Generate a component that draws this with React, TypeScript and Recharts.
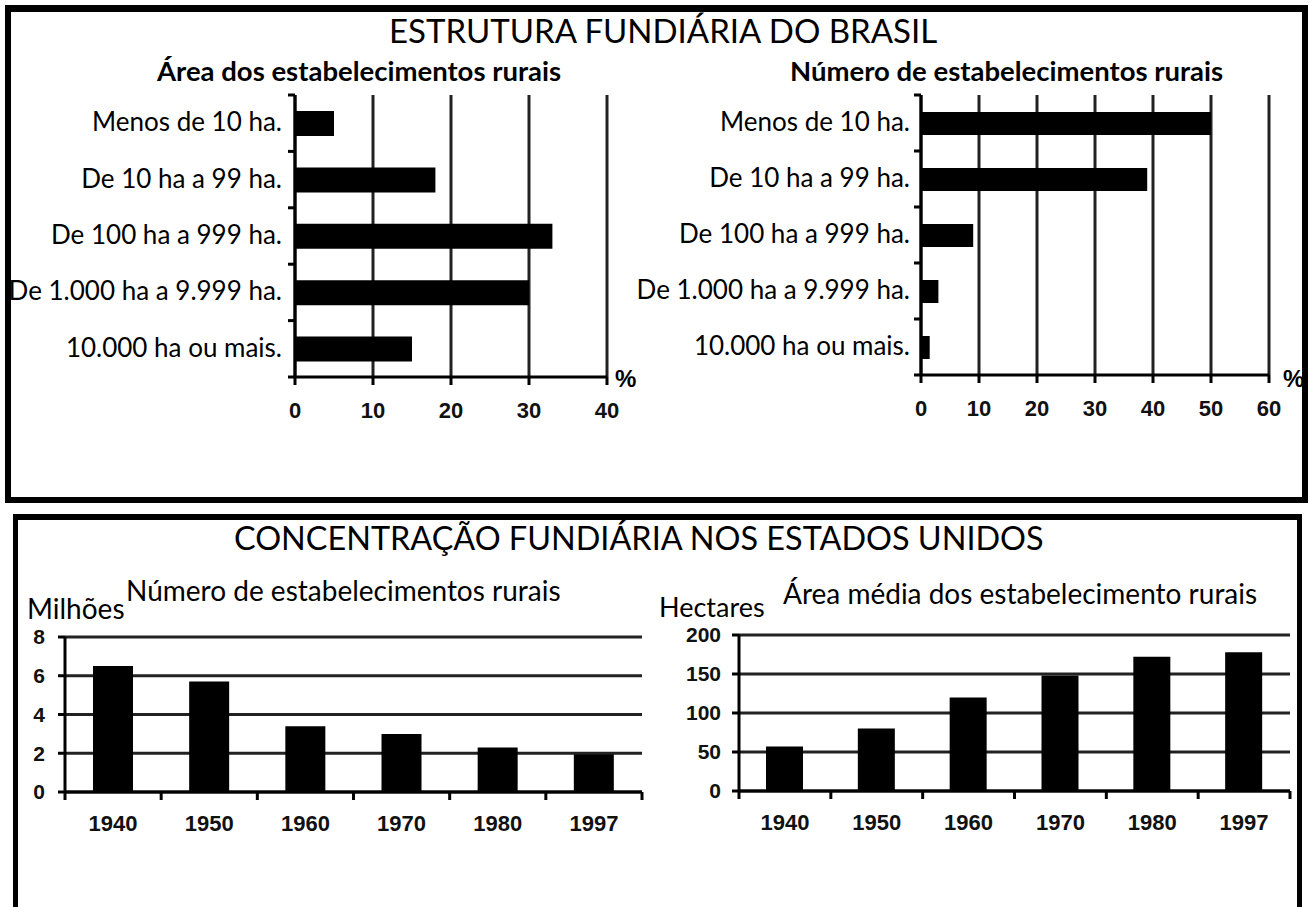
import React from 'react';
import { BarChart, Bar, XAxis, YAxis, CartesianGrid } from 'recharts';

// ---------- data ----------
const faixas = [
  'Menos de 10 ha.',
  'De 10 ha a 99 ha.',
  'De 100 ha a 999 ha.',
  'De 1.000 ha a 9.999 ha.',
  '10.000 ha ou mais.',
];
const areaPct = [5, 18, 33, 30, 15];
const numeroPct = [50, 39, 9, 3, 1.5];
const areaTicks = [0, 10, 20, 30, 40];
const numeroTicks = [0, 10, 20, 30, 40, 50, 60];

const anos = ['1940', '1950', '1960', '1970', '1980', '1997'];
const estabMilhoes = [6.5, 5.7, 3.4, 3.0, 2.3, 1.95];
const areaMediaHa = [57, 80, 120, 148, 172, 178];
const milhoesTicks = [0, 2, 4, 6, 8];
const hectaresTicks = [0, 50, 100, 150, 200];

const areaData = faixas.map((f, i) => ({ faixa: f, valor: areaPct[i] }));
const numeroData = faixas.map((f, i) => ({ faixa: f, valor: numeroPct[i] }));
const milhoesData = anos.map((a, i) => ({ ano: a, valor: estabMilhoes[i] }));
const hectaresData = anos.map((a, i) => ({ ano: a, valor: areaMediaHa[i] }));

// ---------- styles ----------
const FONT = 'Lato, "Noto Sans", sans-serif';
const NUM_FONT = '"Liberation Sans", Arial, sans-serif';
const INK = '#000';
const GRID = '#222';

type Box = {
  left: number; top: number; width: number; height: number;
  plotL: number; plotR: number; plotT: number; plotB: number;
};

const LH = 0.8;

function Txt(props: { x: number; cy: number; size: number; bold?: boolean; font?: string; children: React.ReactNode }) {
  const { x, cy, size, bold, font, children } = props;
  return (
    <div
      style={{
        position: 'absolute',
        left: x,
        top: cy - (LH / 2 + 0.029) * size,
        fontSize: size,
        fontWeight: bold ? 700 : 400,
        fontFamily: font || FONT,
        lineHeight: LH,
        whiteSpace: 'nowrap',
        color: '#000',
      }}
    >
      {children}
    </div>
  );
}

function HorizontalPanel(props: { box: Box; data: any[]; ticks: number[]; barSize: number; labelGap: number }) {
  const { box, data, ticks, barSize, labelGap } = props;
  const band = (box.plotB - box.plotT) / data.length;
  const CatTick = (p: any) => {
    const { x, y, payload, index } = p;
    return (
      <g>
        <line x1={x - 7} x2={x} y1={y - band / 2} y2={y - band / 2} stroke={INK} strokeWidth={3} />
        {index === data.length - 1 && (
          <line x1={x - 7} x2={x} y1={y + band / 2} y2={y + band / 2} stroke={INK} strokeWidth={3} />
        )}
        <text x={x - labelGap} y={y - 2} textAnchor="end" dominantBaseline="central" fontFamily={FONT} fontSize={26} fill="#000">
          {payload.value}
        </text>
      </g>
    );
  };
  return (
    <div style={{ position: 'absolute', left: box.left, top: box.top }}>
      <BarChart
        width={box.width}
        height={box.height}
        data={data}
        layout="vertical"
        margin={{ top: box.plotT - box.top, right: box.left + box.width - box.plotR, bottom: 0, left: 0 }}
      >
        <CartesianGrid horizontal={false} stroke={GRID} strokeWidth={3} />
        <XAxis
          type="number"
          domain={[0, ticks[ticks.length - 1]]}
          ticks={ticks}
          interval={0}
          height={box.top + box.height - box.plotB}
          tickSize={8}
          tickMargin={17}
          axisLine={{ stroke: INK, strokeWidth: 3 }}
          tickLine={{ stroke: INK, strokeWidth: 3 }}
          tick={{ fontSize: 22, fontWeight: 700, fill: '#111', fontFamily: NUM_FONT }}
        />
        <YAxis
          type="category"
          dataKey="faixa"
          width={box.plotL - box.left}
          tickSize={0}
          tickMargin={0}
          tickLine={false}
          interval={0}
          axisLine={{ stroke: INK, strokeWidth: 3 }}
          tick={CatTick}
        />
        <Bar dataKey="valor" fill="#000" barSize={barSize} isAnimationActive={false} />
      </BarChart>
    </div>
  );
}

function VerticalPanel(props: { box: Box; data: any[]; ticks: number[]; barSize: number; yTickMargin: number }) {
  const { box, data, ticks, barSize, yTickMargin } = props;
  const band = (box.plotR - box.plotL) / data.length;
  const CatTick = (p: any) => {
    const { x, y, payload, index } = p;
    return (
      <g>
        <line x1={x - band / 2} x2={x - band / 2} y1={y} y2={y + 8} stroke={INK} strokeWidth={3} />
        {index === data.length - 1 && (
          <line x1={x + band / 2} x2={x + band / 2} y1={y} y2={y + 8} stroke={INK} strokeWidth={3} />
        )}
        <text x={x} y={y + 31} textAnchor="middle" dominantBaseline="central" fontFamily={NUM_FONT} fontWeight={700} fontSize={22} fill="#111">
          {payload.value}
        </text>
      </g>
    );
  };
  return (
    <div style={{ position: 'absolute', left: box.left, top: box.top }}>
      <BarChart
        width={box.width}
        height={box.height}
        data={data}
        margin={{ top: box.plotT - box.top, right: box.left + box.width - box.plotR, bottom: 0, left: 0 }}
      >
        <CartesianGrid vertical={false} stroke={GRID} strokeWidth={3} />
        <XAxis
          dataKey="ano"
          height={box.top + box.height - box.plotB}
          tickSize={0}
          tickMargin={0}
          tickLine={false}
          interval={0}
          axisLine={{ stroke: INK, strokeWidth: 3 }}
          tick={CatTick}
        />
        <YAxis
          type="number"
          domain={[0, ticks[ticks.length - 1]]}
          ticks={ticks}
          interval={0}
          width={box.plotL - box.left}
          tickSize={7}
          tickMargin={yTickMargin}
          axisLine={{ stroke: INK, strokeWidth: 3 }}
          tickLine={{ stroke: INK, strokeWidth: 3 }}
          tick={{ fontSize: 21, fontWeight: 700, fill: '#111', fontFamily: NUM_FONT }}
        />
        <Bar dataKey="valor" fill="#000" barSize={barSize} isAnimationActive={false} />
      </BarChart>
    </div>
  );
}

const box1: Box = { left: 0, top: 0, width: 650, height: 450, plotL: 295, plotR: 607, plotT: 95, plotB: 377 };
const box2: Box = { left: 620, top: 0, width: 690, height: 450, plotL: 921, plotR: 1269, plotT: 95, plotB: 375 };
const box3: Box = { left: 0, top: 560, width: 660, height: 300, plotL: 65, plotR: 642, plotT: 637, plotB: 792 };
const box4: Box = { left: 650, top: 560, width: 660, height: 300, plotL: 739, plotR: 1290, plotT: 635, plotB: 791 };

export default function App() {
  return (
    <div style={{ position: 'absolute', left: 0, top: 0, width: 1310, height: 907, overflow: 'hidden', background: '#fff' }}>
      {/* frames */}
      <div style={{ position: 'absolute', left: 5, top: 5, width: 1303, height: 498, border: '6px solid #000', borderTopWidth: 7, boxSizing: 'border-box' }} />
      <div style={{ position: 'absolute', left: 13, top: 514, width: 1289, height: 420, borderTop: '6px solid #000', borderLeft: '5px solid #000', borderRight: '5px solid #000', boxSizing: 'border-box' }} />

      {/* titles */}
      <Txt x={389} cy={31} size={33}>ESTRUTURA FUNDIÁRIA DO BRASIL</Txt>
      <Txt x={157} cy={72} size={27.5} bold>Área dos estabelecimentos rurais</Txt>
      <Txt x={790} cy={72} size={27.5} bold>Número de estabelecimentos rurais</Txt>

      <Txt x={234} cy={539} size={32.4}>CONCENTRAÇÃO FUNDIÁRIA NOS ESTADOS UNIDOS</Txt>
      <Txt x={126} cy={591} size={28}>Número de estabelecimentos rurais</Txt>
      <Txt x={27} cy={609} size={28}>Milhões</Txt>
      <Txt x={783} cy={594} size={28}>Área média dos estabelecimento rurais</Txt>
      <Txt x={659} cy={608} size={27}>Hectares</Txt>

      <HorizontalPanel box={box1} data={areaData} ticks={areaTicks} barSize={25} labelGap={13} />
      <HorizontalPanel box={box2} data={numeroData} ticks={numeroTicks} barSize={23} labelGap={11} />
      <Txt x={615} cy={379} size={24} bold font={NUM_FONT}>%</Txt>
      <Txt x={1283} cy={379} size={24} bold font={NUM_FONT}>%</Txt>

      <VerticalPanel box={box3} data={milhoesData} ticks={milhoesTicks} barSize={40} yTickMargin={13} />
      <VerticalPanel box={box4} data={hectaresData} ticks={hectaresTicks} barSize={37} yTickMargin={11} />
    </div>
  );
}
